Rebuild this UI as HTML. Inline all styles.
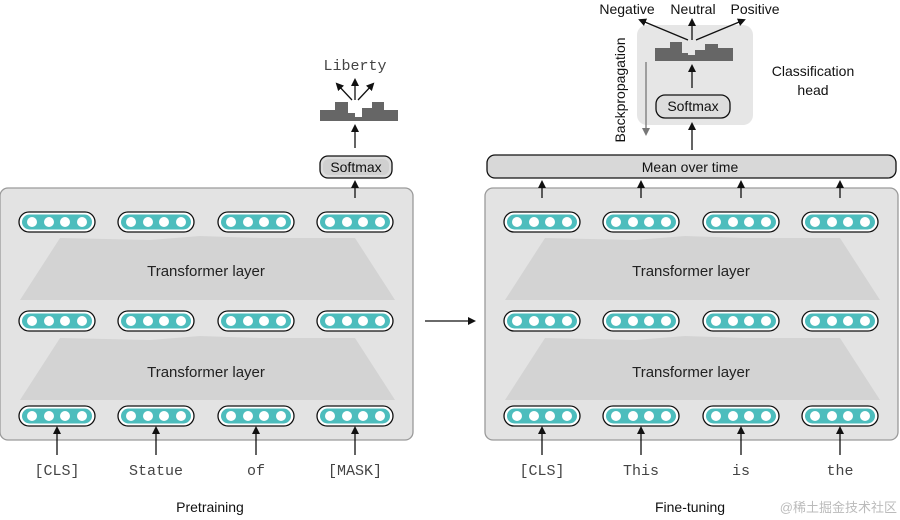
<!DOCTYPE html>
<html><head><style>body{margin:0;background:#fff}svg{display:block}</style></head><body>
<svg width="900" height="520" viewBox="0 0 900 520" xmlns="http://www.w3.org/2000/svg" font-family="Liberation Sans, sans-serif">
<defs>
<marker id="a" markerWidth="8" markerHeight="8" refX="6" refY="4" orient="auto" markerUnits="userSpaceOnUse"><path d="M0,0 L8,4 L0,8 z" fill="#111"/></marker>
<marker id="g" markerWidth="8" markerHeight="8" refX="6" refY="4" orient="auto" markerUnits="userSpaceOnUse"><path d="M0,0 L8,4 L0,8 z" fill="#777"/></marker>
<g id="pill"><rect x="-38" y="-10" width="76" height="20" rx="10" fill="#fff" stroke="#111" stroke-width="1.3"/><rect x="-35" y="-7.5" width="70" height="15" rx="7.5" fill="#4dbdbd"/><circle cx="-25" r="5" fill="#fff"/><circle cx="-8" r="5" fill="#fff"/><circle cx="8" r="5" fill="#fff"/><circle cx="25" r="5" fill="#fff"/></g>
<g id="panel"><rect x="0" y="188" width="413" height="252" rx="8" fill="#e3e3e3" stroke="#9a9a9a" stroke-width="1.3"/>
<path d="M20,300 L60,238 L150,240 L200,236 L260,238 L355,238 L395,300 Z" fill="#d3d3d3"/>
<path d="M20,400 L60,338 L150,340 L200,336 L260,338 L355,338 L395,400 Z" fill="#d3d3d3"/>
<text x="206" y="276" font-size="15" text-anchor="middle" fill="#222">Transformer layer</text>
<text x="206" y="377" font-size="15" text-anchor="middle" fill="#222">Transformer layer</text>
<use href="#pill" x="57" y="222"/><use href="#pill" x="156" y="222"/><use href="#pill" x="256" y="222"/><use href="#pill" x="355" y="222"/>
<use href="#pill" x="57" y="321"/><use href="#pill" x="156" y="321"/><use href="#pill" x="256" y="321"/><use href="#pill" x="355" y="321"/>
<use href="#pill" x="57" y="416"/><use href="#pill" x="156" y="416"/><use href="#pill" x="256" y="416"/><use href="#pill" x="355" y="416"/>
<g stroke="#111" stroke-width="1.3" marker-end="url(#a)"><line x1="57" y1="455" x2="57" y2="428"/><line x1="156" y1="455" x2="156" y2="428"/><line x1="256" y1="455" x2="256" y2="428"/><line x1="355" y1="455" x2="355" y2="428"/></g>
</g>
</defs>
<use href="#panel"/>
<use href="#panel" x="485"/>
<g font-family="Liberation Mono, monospace" font-size="15" fill="#444" text-anchor="middle">
<text x="57" y="475">[CLS]</text><text x="156" y="475">Statue</text><text x="256" y="475">of</text><text x="355" y="475">[MASK]</text>
<text x="542" y="475">[CLS]</text><text x="641" y="475">This</text><text x="741" y="475">is</text><text x="840" y="475">the</text>
<text x="355" y="70">Liberty</text></g>
<text x="210" y="512" font-size="14" text-anchor="middle" fill="#111">Pretraining</text>
<text x="690" y="512" font-size="14" text-anchor="middle" fill="#111">Fine-tuning</text>
<text x="897" y="512" font-size="13" text-anchor="end" fill="#bbb">@稀土掘金技术社区</text>
<line x1="425" y1="321" x2="474" y2="321" stroke="#111" stroke-width="1.3" marker-end="url(#a)"/>
<line x1="355" y1="198" x2="355" y2="182" stroke="#111" stroke-width="1.3" marker-end="url(#a)"/>
<rect x="320" y="156" width="72" height="22" rx="8" fill="#ddd" stroke="#111" stroke-width="1.3"/>
<rect x="323" y="159" width="66" height="16" rx="6" fill="#d0d0d0"/>
<text x="356" y="172" font-size="14" text-anchor="middle" fill="#111">Softmax</text>
<line x1="355" y1="148" x2="355" y2="126" stroke="#111" stroke-width="1.3" marker-end="url(#a)"/>
<path d="M320,121 V110 H335 V102 H348 V113 H355 V117 H362 V108 H372 V102 H384 V110 H398 V121 Z" fill="#666"/>
<g stroke="#111" stroke-width="1.3" marker-end="url(#a)"><line x1="352" y1="100" x2="337" y2="84"/><line x1="355" y1="100" x2="355" y2="80"/><line x1="358" y1="100" x2="373" y2="84"/></g>
<g stroke="#111" stroke-width="1.3" marker-end="url(#a)"><line x1="542" y1="198" x2="542" y2="182"/><line x1="641" y1="198" x2="641" y2="182"/><line x1="741" y1="198" x2="741" y2="182"/><line x1="840" y1="198" x2="840" y2="182"/></g>
<rect x="487" y="155" width="409" height="23" rx="8" fill="#d8d8d8" stroke="#111" stroke-width="1.3"/>
<text x="690" y="172" font-size="14" text-anchor="middle" fill="#111">Mean over time</text>
<rect x="637" y="25" width="116" height="100" rx="10" fill="#e6e6e6"/>
<line x1="692" y1="150" x2="692" y2="124" stroke="#111" stroke-width="1.3" marker-end="url(#a)"/>
<rect x="656" y="95" width="74" height="23" rx="9" fill="#ddd" stroke="#111" stroke-width="1.3"/>
<text x="693" y="111" font-size="14" text-anchor="middle" fill="#111">Softmax</text>
<line x1="692" y1="88" x2="692" y2="66" stroke="#111" stroke-width="1.3" marker-end="url(#a)"/>
<path d="M655,61 V48 H670 V42 H682 V53 H688 V55 H695 V50 H705 V44 H718 V48 H733 V61 Z" fill="#666"/>
<g stroke="#111" stroke-width="1.3" marker-end="url(#a)"><line x1="688" y1="40" x2="640" y2="20"/><line x1="692" y1="40" x2="692" y2="20"/><line x1="696" y1="40" x2="744" y2="20"/></g>
<g font-size="14" fill="#111" text-anchor="middle"><text x="627" y="14">Negative</text><text x="693" y="14">Neutral</text><text x="755" y="14">Positive</text>
<text x="813" y="76">Classification</text><text x="813" y="95">head</text></g>
<text transform="translate(625,90) rotate(-90)" font-size="14" text-anchor="middle" fill="#111">Backpropagation</text>
<line x1="646" y1="62" x2="646" y2="134" stroke="#777" stroke-width="1.3" marker-end="url(#g)"/>
</svg>
</body></html>
